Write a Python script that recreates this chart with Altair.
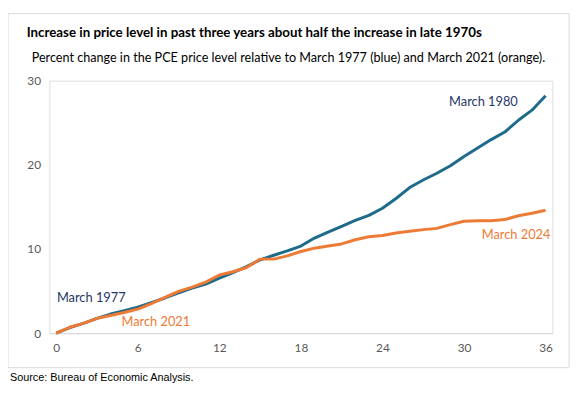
import altair as alt
import pandas as pd

months = list(range(37))
blue_1977 = [0, 0.67, 1.17, 1.76, 2.27, 2.66, 3.09, 3.63, 4.18, 4.8, 5.35, 5.82, 6.53, 7.2, 7.9, 8.7,
             9.26, 9.77, 10.35, 11.3, 12.0, 12.7, 13.4, 14.0, 14.85, 16.0, 17.3, 18.2, 19.0, 19.9,
             21.0, 22.0, 23.0, 23.9, 25.3, 26.5, 28.2]
orange_2021 = [0, 0.7, 1.17, 1.76, 2.1, 2.46, 2.85, 3.5, 4.25, 4.96, 5.47, 6.06, 6.91, 7.3, 7.8, 8.8,
               8.8, 9.18, 9.7, 10.1, 10.35, 10.6, 11.1, 11.45, 11.6, 11.9, 12.1, 12.3, 12.45, 12.9,
               13.3, 13.35, 13.35, 13.5, 13.95, 14.25, 14.6]

series_names = ["1977-1980", "2021-2024"]
series_colors = ["#1D6A8B", "#EE7B35"]

label_text = ["March 1977", "March 2021", "March 1980", "March 2024"]
label_month = [0.05, 4.8, 28.9, 31.3]
label_value = [4.2, 1.3, 27.5, 11.6]
label_color = ["#1F3864", "#EE7B35", "#1F3864", "#EE7B35"]

title = "Increase in price level in past three years about half the increase in late 1970s"
subtitle = "Percent change in the PCE price level relative to March 1977 (blue) and March 2021 (orange)."
source = "Source: Bureau of Economic Analysis."

FONT = "Lato"

df = pd.DataFrame({
    "month": months * 2,
    "value": blue_1977 + orange_2021,
    "series": [series_names[0]] * 37 + [series_names[1]] * 37,
})
labels = pd.DataFrame({"text": label_text, "month": label_month, "value": label_value, "color": label_color})

xscale = alt.Scale(domain=[-0.5, 36.5], nice=False, zero=False)
yscale = alt.Scale(domain=[0, 30], nice=False)

lines = alt.Chart(df).mark_line(strokeWidth=3, strokeJoin="round").encode(
    x=alt.X("month:Q", scale=xscale, title=None,
            axis=alt.Axis(values=[0, 6, 12, 18, 24, 30, 36], ticks=False, grid=False,
                          domainColor="#d9d9d9", domainWidth=1, labelColor="#595959",
                          labelFontSize=12, labelFont=FONT, labelPadding=10)),
    y=alt.Y("value:Q", scale=yscale, title=None,
            axis=alt.Axis(values=[0, 10, 20, 30], ticks=False, grid=False, domain=False,
                          labelColor="#595959", labelFontSize=12, labelFont=FONT,
                          labelPadding=9)),
    color=alt.Color("series:N", scale=alt.Scale(domain=series_names, range=series_colors), legend=None),
)

text_labels = alt.Chart(labels).mark_text(align="left", baseline="middle", fontSize=13,
                                          font=FONT).encode(
    x=alt.X("month:Q", scale=xscale),
    y=alt.Y("value:Q", scale=yscale),
    text="text:N",
    color=alt.Color("color:N", scale=None),
)

border = alt.Chart(pd.DataFrame({"a": [0]})).mark_rect(fill=None, stroke="#d9d9d9", strokeWidth=1).encode(
    x=alt.value(-42), x2=alt.value(527), y=alt.value(-68), y2=alt.value(291)
)

title_mark = alt.Chart(pd.DataFrame({"t": [title]})).mark_text(
    align="left", baseline="middle", fontSize=13.5, fontWeight="bold", font=FONT, color="#000000"
).encode(text="t:N", x=alt.value(-23), y=alt.value(-48))

subtitle_mark = alt.Chart(pd.DataFrame({"t": [subtitle]})).mark_text(
    align="left", baseline="middle", fontSize=12.8, font=FONT, color="#000000"
).encode(text="t:N", x=alt.value(-18), y=alt.value(-23))

source_mark = alt.Chart(pd.DataFrame({"t": [source]})).mark_text(
    align="left", baseline="middle", fontSize=11, font="Liberation Sans", color="#000000"
).encode(text="t:N", x=alt.value(-40), y=alt.value(302))

chart = alt.layer(border, lines, text_labels, title_mark, subtitle_mark, source_mark).properties(
    width=510, height=256,
    autosize=alt.AutoSizeParams(type="none"),
    padding={"left": 42, "top": 71, "right": 26, "bottom": 61},
).configure_view(stroke=None).configure(background="white")

chart.save("out.html", embed_options={"renderer": "svg", "actions": False})
